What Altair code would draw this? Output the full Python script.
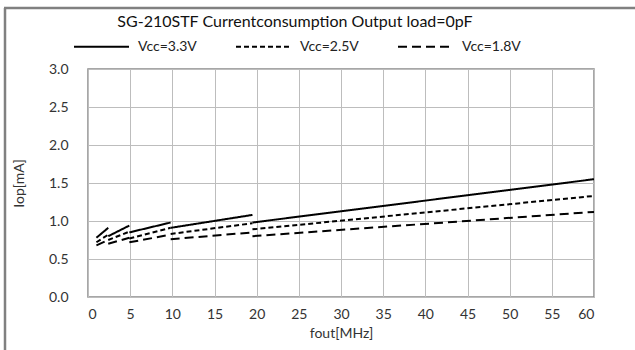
import altair as alt
import pandas as pd

title_text = "SG-210STF Currentconsumption Output load=0pF"
series = ["Vcc=3.3V", "Vcc=2.5V", "Vcc=1.8V"]

# frequency segments (MHz)
seg_f_start = [1.0, 2.4, 4.9, 9.8, 19.5]
seg_f_end = [2.4, 4.9, 9.8, 19.5, 60.0]

# current at start / end of each segment (mA)
iop_33_start = [0.78, 0.80, 0.85, 0.91, 0.98]
iop_33_end = [0.91, 0.94, 0.98, 1.08, 1.55]
iop_25_start = [0.72, 0.75, 0.77, 0.83, 0.89]
iop_25_end = [0.82, 0.86, 0.91, 0.97, 1.33]
iop_18_start = [0.68, 0.70, 0.72, 0.76, 0.80]
iop_18_end = [0.75, 0.78, 0.82, 0.85, 1.12]

x_ticks = list(range(0, 61, 5))
y_ticks = [0.0, 0.5, 1.0, 1.5, 2.0, 2.5, 3.0]

rows = []
for s, st, en in zip(series,
                     [iop_33_start, iop_25_start, iop_18_start],
                     [iop_33_end, iop_25_end, iop_18_end]):
    for k in range(len(seg_f_start)):
        rows.append({"series": s, "key": f"{s}_{k}", "f": seg_f_start[k], "iop": st[k]})
        rows.append({"series": s, "key": f"{s}_{k}", "f": seg_f_end[k], "iop": en[k]})
df = pd.DataFrame(rows)

FONT = "Lato"
W, H = 506, 228

lines = alt.Chart(df).mark_line(color="black", strokeWidth=2).encode(
    x=alt.X("f:Q", scale=alt.Scale(domain=[0, 60], nice=False, zero=False),
            axis=alt.Axis(values=x_ticks, title="fout[MHz]", labelPadding=10,
                          titlePadding=5)),
    y=alt.Y("iop:Q", scale=alt.Scale(domain=[0, 3], nice=False),
            axis=alt.Axis(values=y_ticks, format=".1f", title="Iop[mA]",
                          labelPadding=20, titlePadding=22)),
    strokeDash=alt.StrokeDash(
        "series:N",
        scale=alt.Scale(domain=series, range=[[1, 0], [5, 3], [9, 5]]),
        legend=alt.Legend(
            title=None, orient="none", direction="horizontal",
            legendX=-15, legendY=-51, symbolType="stroke", symbolSize=3025,
            symbolStrokeWidth=2, symbolStrokeColor="black", labelOffset=8,
            labelFontSize=14, labelFont=FONT, labelColor="#222222",
            columnPadding=35,
        ),
    ),
    detail="key:N",
    order="f:Q",
)

title = alt.Chart(pd.DataFrame({"t": [title_text]})).mark_text(
    font=FONT, fontSize=16, color="#111111", align="center", baseline="middle"
).encode(text="t:N", x=alt.value(207), y=alt.value(-47))

frame_left = alt.Chart(pd.DataFrame({"a": [0]})).mark_rule(
    color="#808080", strokeWidth=2.5
).encode(x=alt.value(-83), y=alt.value(-61), y2=alt.value(290))
frame_top = alt.Chart(pd.DataFrame({"a": [0]})).mark_rule(
    color="#808080", strokeWidth=2.5
).encode(x=alt.value(-84), x2=alt.value(560), y=alt.value(-61))

chart = alt.layer(lines, title, frame_left, frame_top).properties(
    width=W, height=H,
    autosize=alt.AutoSizeParams(type="none"),
    padding={"left": 88, "top": 69, "right": 41, "bottom": 53},
    background="white",
).configure_view(
    stroke="#8a8a8a", strokeWidth=1.5
).configure_axis(
    grid=True, gridColor="#bdbdbd", gridWidth=1, domain=False, ticks=False,
    labelFont=FONT, labelFontSize=14, labelColor="#333333",
    titleFont=FONT, titleFontSize=14, titleFontWeight="normal", titleColor="#333333",
)

chart.save("out.html", embed_options={"renderer": "svg", "actions": False})
